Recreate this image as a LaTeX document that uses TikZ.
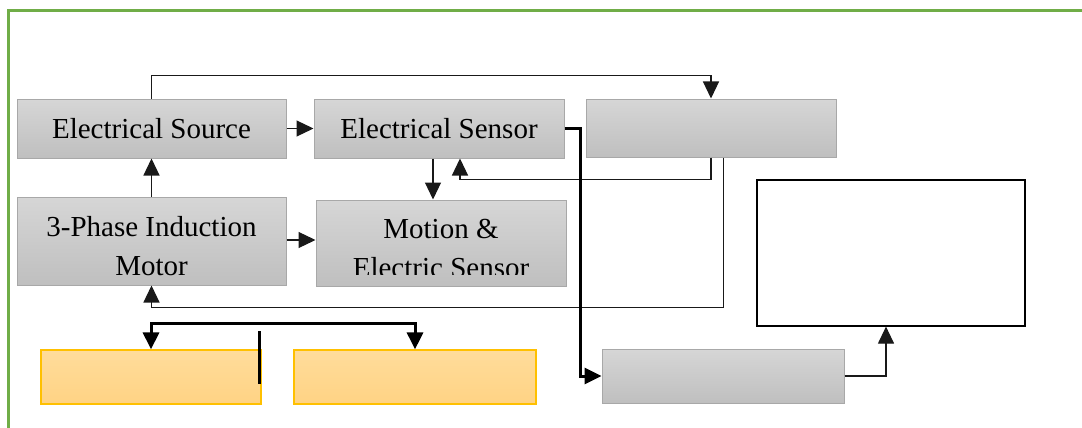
\documentclass[tikz,border=0pt]{standalone}
\usepackage{fontspec}
\setmainfont{Liberation Serif}
\usetikzlibrary{arrows.meta}
\definecolor{framegreen}{RGB}{112,173,71}
\definecolor{boxtop}{RGB}{214,214,214}
\definecolor{boxbot}{RGB}{191,191,191}
\definecolor{boxedge}{RGB}{168,168,168}
\definecolor{yeltop}{RGB}{255,220,155}
\definecolor{yelbot}{RGB}{255,211,132}
\definecolor{yeledge}{RGB}{255,192,0}
\definecolor{linegray}{RGB}{25,25,25}
\newcommand{\boxfont}{\fontsize{29}{39}\selectfont}

\begin{document}
\begin{tikzpicture}[x=1pt, y=-1pt, >={Triangle[length=17pt,width=16pt]},
    graybox/.style={draw=boxedge, line width=1pt, top color=boxtop, bottom color=boxbot,
        inner sep=0pt, align=center, font=\boxfont},
    yelbox/.style={draw=yeledge, line width=1.2pt, top color=yeltop, bottom color=yelbot, inner sep=0pt},
    conn/.style={draw=linegray, line width=1.2pt},
    bus/.style={draw=black, line width=3pt}]
    \useasboundingbox (0,0) rectangle (1082,428);

    % frame
    \draw[framegreen, line width=2.5pt] (8.6,430) -- (8.6,10.5) -- (1084,10.5);

    % blocks
    \node[graybox, minimum width=269pt, minimum height=59pt] (src) at (151.5,128.5) {Electrical Source};
    \node[graybox, minimum width=250pt, minimum height=59pt] (esens) at (439,128.5) {Electrical Sensor};
    \node[graybox, minimum width=250pt, minimum height=58pt] (proc) at (711,128) {};
    \node[graybox, minimum width=269pt, minimum height=88pt, text height=68pt, text depth=0pt] (motor) at (151.5,241) {3-Phase Induction\\Motor};
    \node[graybox, minimum width=250pt, minimum height=86pt] (motion) at (441,243) {};
    \begin{scope}
        \clip (316,200) rectangle (566,274);
        \node[align=center, font=\boxfont, inner sep=0pt, text height=68pt, text depth=0pt] (motiontext) at (motion) {Motion \&\\Electric Sensor};
    \end{scope}
    \node[graybox, minimum width=242pt, minimum height=54pt] (out) at (723,376) {};
    \node[draw=black, line width=1.2pt, minimum width=268pt, minimum height=146pt, inner sep=0pt] (disp) at (891,253) {};
    \node[yelbox, minimum width=220pt, minimum height=54pt] (yel1) at (151,377) {};
    \node[yelbox, minimum width=242pt, minimum height=54pt] (yel2) at (415,377) {};

    % connectors
    \draw[conn, ->] (src.north) -- ++(0,-23) -| (proc.north);
    \draw[conn, ->] (src.east) -- (esens.west);
    \draw[conn, ->] (motor.north) -- (src.south);
    \draw[conn, ->] ([yshift=1pt]motor.east) -- ([yshift=1pt]motor.east -| motion.west);
    \draw[conn, ->] ([xshift=-6pt]esens.south) -- ([xshift=-6pt]esens.south |- motion.north);
    \draw[conn, ->] (proc.south) -- ++(0,22) -| ([xshift=21pt]esens.south);
    \draw[conn, ->] ([xshift=12.5pt]proc.south) -- ++(0,150) -| (motor.south);
    \draw[bus, ->] (esens.east) -- ++(16,0) |- (out.west);
    \draw[conn, ->] (out.east) -| ([xshift=-5pt]disp.south);
    \draw[bus, <->] (yel1.north) -- ++(0,-26) -| (yel2.north);

    % stray mark on the first yellow block
    \coordinate (marktop) at (259.6,331);
    \coordinate (markbot) at (259.6,384);
    \draw[black, line width=2.5pt] (marktop) -- (markbot);
\end{tikzpicture}
\end{document}
